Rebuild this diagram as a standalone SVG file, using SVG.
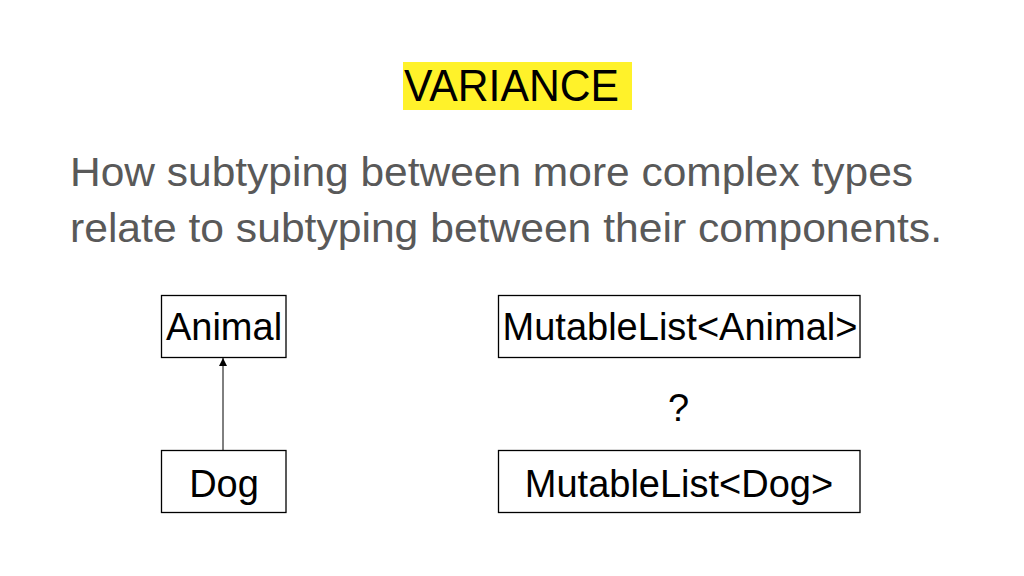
<svg xmlns="http://www.w3.org/2000/svg" width="1024" height="576" viewBox="0 0 1024 576">
<style>
text{font-family:"Liberation Sans",Arial,sans-serif}
.box{fill:#fff;stroke:#000;stroke-width:1.3}
.lbl{font-size:38px;fill:#000;text-anchor:middle}
.body{font-size:41px;fill:#595959}
</style>
<defs>
<marker id="arr" viewBox="0 0 10 10" refX="10" refY="5" markerWidth="8" markerHeight="8" markerUnits="userSpaceOnUse" orient="auto">
<path d="M0,0 L10,5 L0,10 z" fill="#000"/>
</marker>
</defs>
<rect width="1024" height="576" fill="#fff"/>
<g id="title">
<rect x="403" y="62" width="229" height="48" fill="#fff22a"/>
<text x="404" y="101" font-size="44" fill="#000" textLength="215" lengthAdjust="spacingAndGlyphs">VARIANCE</text>
</g>
<g id="body">
<text class="body" x="70" y="186" textLength="843" lengthAdjust="spacingAndGlyphs">How subtyping between more complex types</text>
<text class="body" x="70" y="242" textLength="872" lengthAdjust="spacingAndGlyphs">relate to subtyping between their components.</text>
</g>
<g id="connectors">
<line x1="223" y1="450" x2="223" y2="358" stroke="#000" stroke-width="1" marker-end="url(#arr)"/>
</g>
<g id="animal">
<rect class="box" x="161.5" y="295.5" width="124.5" height="62"/>
<text class="lbl" x="224" y="340">Animal</text>
</g>
<g id="dog">
<rect class="box" x="161.5" y="450.5" width="124.5" height="62"/>
<text class="lbl" x="224" y="497">Dog</text>
</g>
<g id="mlanimal">
<rect class="box" x="498.5" y="295.5" width="361.5" height="62"/>
<text class="lbl" x="680" y="340">MutableList&lt;Animal&gt;</text>
</g>
<g id="question">
<text class="lbl" x="678.5" y="421" font-size="44">?</text>
</g>
<g id="mldog">
<rect class="box" x="498.5" y="450.5" width="361.5" height="62"/>
<text class="lbl" x="679" y="497">MutableList&lt;Dog&gt;</text>
</g>
</svg>
